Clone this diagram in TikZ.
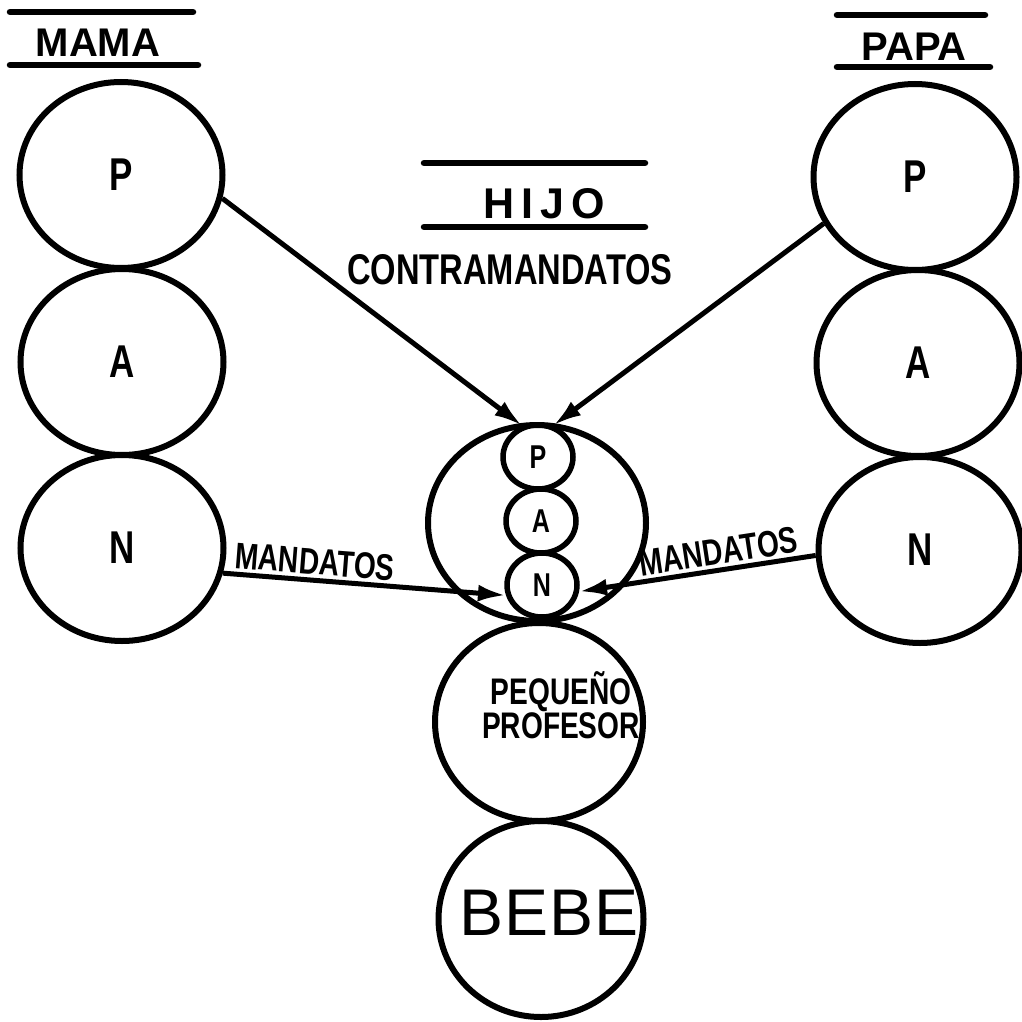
\documentclass[tikz,border=0pt]{standalone}
\usepackage{fontspec}
\setmainfont{Liberation Sans}
\newfontfamily\condfont[FakeStretch=0.76]{Liberation Sans}
\usetikzlibrary{calc,positioning,arrows.meta,shapes.geometric}

\begin{document}
\begin{tikzpicture}[x=1pt, y=-1pt,
  egostate/.style={ellipse, draw, line width=6pt, inner sep=0pt,
    minimum width=203pt, minimum height=186pt,
    font=\condfont\bfseries\fontsize{46pt}{46pt}\selectfont},
  ministate/.style={ellipse, draw, line width=5.5pt, inner sep=0pt,
    minimum width=70pt, minimum height=64pt,
    font=\condfont\bfseries\fontsize{33pt}{33pt}\selectfont},
  bigring/.style={ellipse, draw, line width=6pt, inner sep=0pt},
  heading/.style={font=\bfseries\fontsize{40pt}{40pt}\selectfont},
  hand/.style={font=\condfont\bfseries\fontsize{37pt}{37pt}\selectfont, inner sep=3pt},
  rule/.style={line width=6.5pt, line cap=round},
  order/.style={line width=5pt, -{Latex[length=28pt, width=17pt]}},
  backorder/.style={line width=5pt, {Latex[length=28pt, width=17pt]}-}]
\useasboundingbox (0,0) rectangle (1021,1022);

% headings
\node[heading] (mama) at (98,43) {MAMA};
\draw[rule] (10,12) -- (193,12);
\draw[rule] (10,65) -- (198,65);
\node[heading] (papa) at (914,47) {PAPA};
\draw[rule] (837,15) -- (985,15);
\draw[rule] (837,67) -- (990,67);
\node[heading, font=\bfseries\fontsize{43pt}{43pt}\selectfont] (hijo) at (544,204)
  {H\hspace{7pt}I\hspace{7pt}J\hspace{7pt}O};
\draw[rule] (424,163) -- (645,163);
\draw[rule] (424,227) -- (645,227);
\node[hand, font=\condfont\bfseries\fontsize{43pt}{43pt}\selectfont] (contra) at (510,270) {CONTRAMANDATOS};

% mama and papa
\node[egostate] (mP) at (121,175) {P};
\node[egostate] (mA) at (122,362) {A};
\node[egostate] (mN) at (122,548) {N};
\node[egostate] (pP) at (915,177) {P};
\node[egostate] (pA) at (918,363) {A};
\node[egostate] (pN) at (920,550) {N};

% hijo
\node[bigring, minimum width=218pt, minimum height=196pt] (hEgo) at (537,523) {};
\node[ministate] (hP) at (538,457) {P};
\node[ministate] (hA) at (541,521) {A};
\node[ministate] (hN) at (542,585) {N};
\node[bigring, minimum width=208pt, minimum height=198pt] (prof) at (539,722) {};
\node[hand, align=center] (proftxt) at ($(prof)+(22,-17)$) {PEQUEÑO\\[-3pt]PROFESOR};
\node[bigring, minimum width=205pt, minimum height=196pt] (bebe) at (541,919) {};
\node[font=\fontsize{66pt}{66pt}\selectfont] (bebetxt) at ($(bebe)+(8,-6)$) {B\hspace{1pt}E\hspace{1pt}B\hspace{1pt}E};

% mandatos
\draw[order] (mP.-13.5) -- (hP.117);
\draw[order] (pP.207) -- (hP.64);
\draw[order] (mN.-14) -- node[hand, pos=0.32, above, sloped] {MANDATOS} (hN.196);
\draw[backorder] (hN.-10) -- node[hand, pos=0.6, above, sloped] {MANDATOS} (pN.183);
\end{tikzpicture}
\end{document}
